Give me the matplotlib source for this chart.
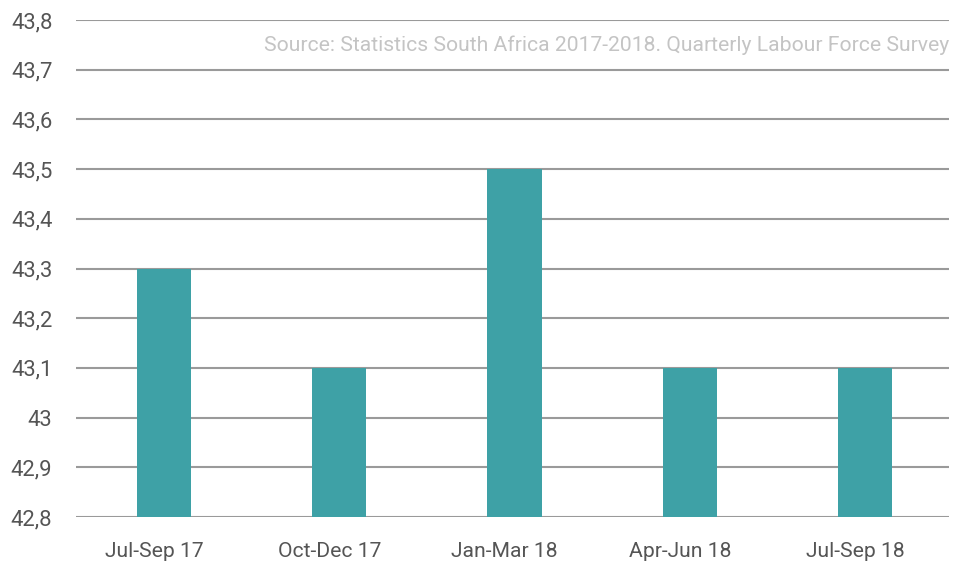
import matplotlib.pyplot as plt
import matplotlib.transforms as mtransforms
from matplotlib.ticker import FuncFormatter

plt.rcParams["font.family"] = ["Roboto", "DejaVu Sans"]

quarters = ["Jul-Sep 17", "Oct-Dec 17", "Jan-Mar 18", "Apr-Jun 18", "Jul-Sep 18"]
values = [43.3, 43.1, 43.5, 43.1, 43.1]
y_ticks = [42.8, 42.9, 43.0, 43.1, 43.2, 43.3, 43.4, 43.5, 43.6, 43.7, 43.8]
source = "Source: Statistics South Africa 2017-2018. Quarterly Labour Force Survey"

fig = plt.figure(figsize=(9.62, 5.65), dpi=100)
ax = fig.add_axes([76 / 962, 48 / 565, 873 / 962, 497 / 565])

x = range(len(quarters))
ax.bar(x, [v - 42.8 for v in values], bottom=42.8, width=0.31, color="#3ea1a6", zorder=2)

ax.set_xlim(-0.502, len(quarters) - 0.521)
ax.set_ylim(42.8, 43.8)
ax.set_yticks(y_ticks)


def comma(v, pos):
    s = f"{v:.1f}".replace(".", ",")
    return s[:-2] if s.endswith(",0") else s


ax.yaxis.set_major_formatter(FuncFormatter(comma))
ax.set_xticks(list(x))
ax.set_xticklabels(quarters)
ax.grid(axis="y", color="#9a9a9a", linewidth=1.5, zorder=1)
for spine in ax.spines.values():
    spine.set_visible(False)
ax.tick_params(axis="y", length=0, labelsize=15.8, colors="#555555", pad=17)
ax.tick_params(axis="x", length=0, labelsize=15.2, colors="#555555", pad=18)

# category labels sit a little left of the bar centres
shift = mtransforms.ScaledTranslation(-10 / 100, 0, fig.dpi_scale_trans)
for lbl in ax.get_xticklabels():
    lbl.set_transform(lbl.get_transform() + shift)

ax.text(1.0, 0.95, source, transform=ax.transAxes, ha="right", va="center",
        fontsize=15.2, color="#c4c4c4")

fig.savefig("out.png", dpi=100)
